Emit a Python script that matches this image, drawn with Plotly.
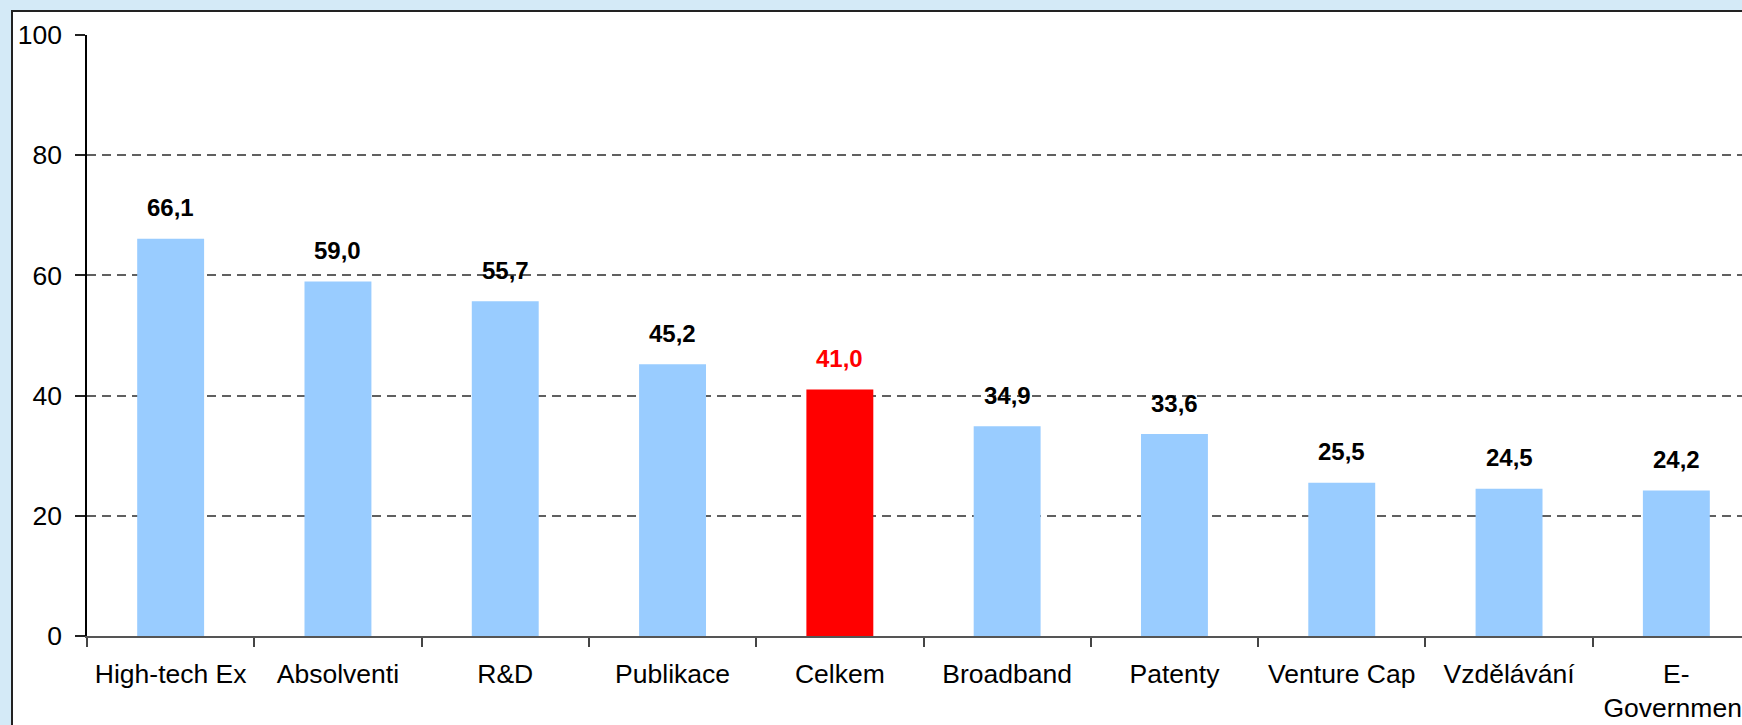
import plotly.graph_objects as go

categories = ["High-tech Ex", "Absolventi", "R&D", "Publikace", "Celkem",
              "Broadband", "Patenty", "Venture Cap", "Vzdělávání", "E-<br>Government"]
values = [66.1, 59.0, 55.7, 45.2, 41.0, 34.9, 33.6, 25.5, 24.5, 24.2]
highlight = "Celkem"

BLUE = "#99CCFF"
RED = "#FF0000"
BG = "#D4EAF7"
FONT = "Arial, Liberation Sans, sans-serif"

colors = [RED if c == highlight else BLUE for c in categories]
label_colors = [RED if c == highlight else "#000000" for c in categories]

W, H = 1742, 725
ML, MT, MB, MR = 87, 35, 89, 0
plot_w = W - ML - MR
plot_h = H - MT - MB
cat_px = 167.3
xmax = -0.5 + plot_w / cat_px

fig = go.Figure()
fig.add_trace(go.Bar(
    x=categories, y=values,
    marker=dict(color=colors, line=dict(width=0)),
    width=0.4, hoverinfo="skip",
))

for c, v, lc in zip(categories, values, label_colors):
    fig.add_annotation(
        x=c, y=v, text=f"{v:.1f}".replace(".", ","),
        showarrow=False, yanchor="middle", xanchor="center", yshift=31,
        font=dict(family=FONT, size=24, color=lc, weight="bold"),
    )

# white chart area box with dark border
fig.add_shape(
    type="rect", xref="paper", yref="paper", layer="below",
    x0=(12 - ML) / plot_w, x1=1.05,
    y0=(plot_h + MT - 760) / plot_h, y1=(plot_h + MT - 11) / plot_h,
    fillcolor="white", line=dict(color="#222222", width=2),
)

fig.update_layout(
    width=W, height=H,
    margin=dict(l=ML, r=MR, t=MT, b=MB, pad=0, autoexpand=False),
    paper_bgcolor=BG, plot_bgcolor="white",
    showlegend=False,
    font=dict(family=FONT, size=26, color="#000000"),
    xaxis=dict(
        type="category", range=[-0.5, xmax], automargin=False,
        tickson="boundaries", ticks="outside", ticklen=9, tickwidth=1.5,
        tickcolor="#444444", showline=True, linecolor="#555555", linewidth=2,
        showgrid=False, zeroline=False, ticklabelstandoff=13,
        ticklabeloverflow="allow",
        tickfont=dict(family=FONT, size=26.5, color="#000000"),
    ),
    yaxis=dict(
        range=[0, 100], tickvals=[0, 20, 40, 60, 80, 100], automargin=False,
        ticks="outside", ticklen=10, tickwidth=1.5, tickcolor="#222222",
        showline=True, linecolor="#000000", linewidth=1.5,
        showgrid=True, gridcolor="#606060", gridwidth=2, griddash="9px,6px",
        zeroline=False, ticklabelstandoff=8,
        tickfont=dict(family=FONT, size=26.5, color="#000000"),
    ),
)

fig.write_html(
    "out.html",
    config={"displayModeBar": False},
    post_script=(
        "document.body.style.margin='0';"
        "document.body.style.padding='0';"
        "document.body.style.overflow='hidden';"
        f"document.body.style.background='{BG}';"
    ),
)
